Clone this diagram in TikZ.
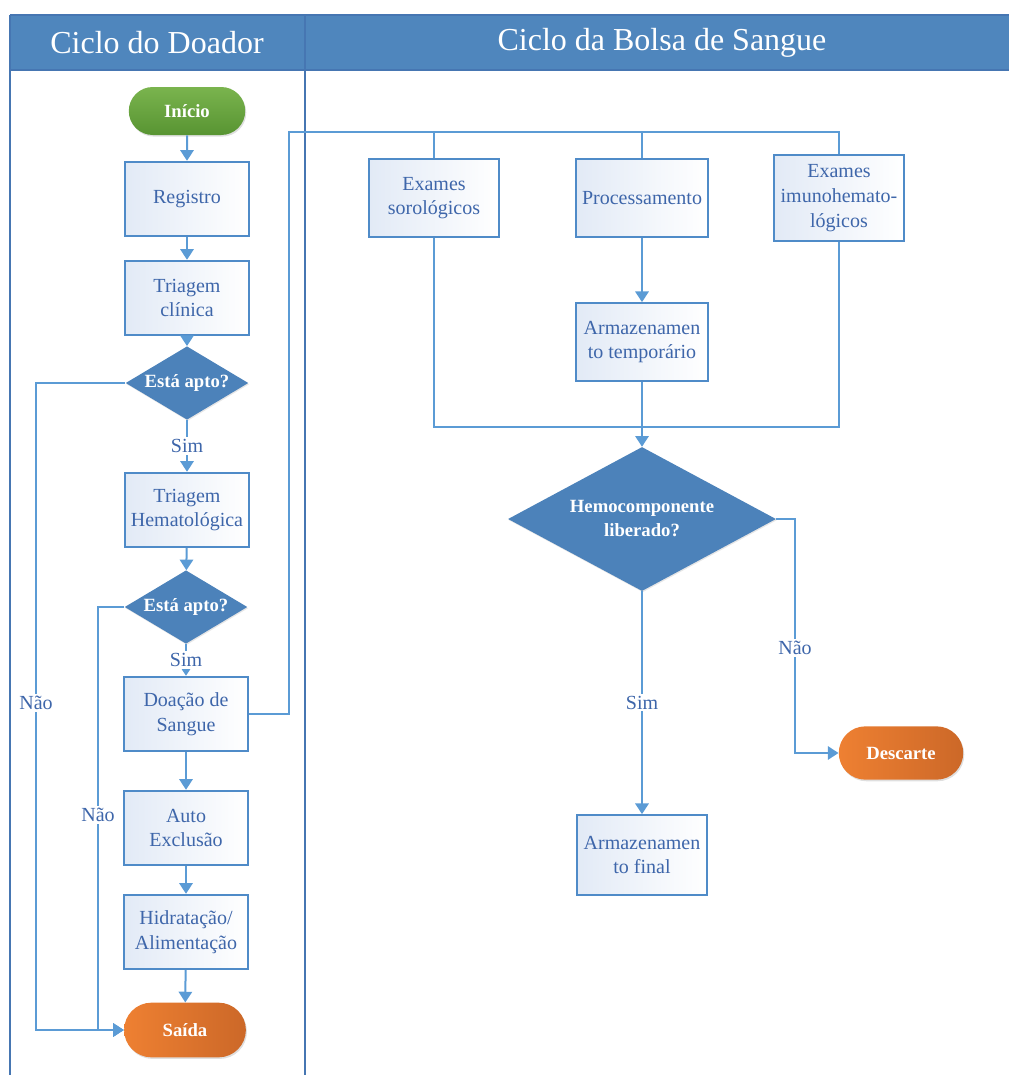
\documentclass[tikz,border=0pt]{standalone}
\usepackage{fontspec}
\setmainfont{Liberation Serif}
\usetikzlibrary{shapes.geometric,shapes.misc,arrows.meta,shadows}
\definecolor{hdr}{RGB}{79,134,189}
\definecolor{lanec}{RGB}{70,118,178}
\definecolor{linec}{RGB}{91,155,213}
\definecolor{boxborder}{RGB}{79,139,200}
\definecolor{boxlight}{RGB}{226,234,246}
\definecolor{boxtext}{RGB}{62,102,170}
\definecolor{diafill}{RGB}{76,130,186}
\definecolor{greenA}{RGB}{122,180,78}
\definecolor{greenB}{RGB}{88,148,50}
\definecolor{orangeA}{RGB}{238,128,50}
\definecolor{orangeB}{RGB}{204,104,40}
\begin{document}
\begin{tikzpicture}[x=0.75pt,y=-0.75pt,
  lane/.style={draw=lanec,line width=1.2pt},
  hdrtext/.style={text=white,font=\fontsize{24}{28}\selectfont},
  box/.style={rectangle,draw=boxborder,line width=1.3pt,left color=boxlight,right color=white,
    text=boxtext,font=\fontsize{15}{18.5}\selectfont,align=center,inner sep=1pt,
    minimum width=93pt,minimum height=56pt},
  decision/.style={diamond,fill=diafill,text=white,font=\bfseries\fontsize{14}{18}\selectfont,
    align=center,inner sep=0pt,drop shadow={opacity=0.2,shadow xshift=0.6pt,shadow yshift=-0.9pt}},
  term/.style={rounded rectangle,text=white,font=\bfseries\fontsize{14}{17}\selectfont,
    drop shadow={opacity=0.25,shadow xshift=0.8pt,shadow yshift=-1.2pt}},
  conn/.style={draw=linec,line width=1.5pt,-{Triangle[width=10pt,length=8pt]}},
  wire/.style={draw=linec,line width=1.5pt},
  lbl/.style={fill=white,text=boxtext,font=\fontsize{15}{18}\selectfont,inner sep=1.5pt}
]
\useasboundingbox (0,0) rectangle (1009,1075);
% lanes and header
\fill[hdr] (10,15) rectangle (1009,70);
\draw[lane] (10,15) -- (1009,15);
\draw[lane] (10,70) -- (1009,70);
\draw[lane] (10,15) -- (10,1075);
\draw[lane] (305,15) -- (305,1075);
\node[hdrtext] (h1) at (157,43) {Ciclo do Doador};
\node[hdrtext] (h2) at (662,43) {Ciclo da Bolsa de Sangue};

% donor cycle
\node[term,top color=greenA,bottom color=greenB,minimum width=94pt,minimum height=36pt] (ini) at (187,111) {Início};
\node[box] (reg) at (187,199) {Registro};
\node[box] (tcl) at (187,298) {Triagem\\clínica};
\node[decision,shape aspect=1.7,minimum width=92pt,minimum height=55pt] (d1) at (187,383) {Está apto?};
\node[box] (trh) at (187,510) {Triagem\\Hematológica};
\node[decision,shape aspect=1.7,minimum width=92pt,minimum height=55pt] (d2) at (186,607) {Está apto?};
\node[box] (doa) at (186,714) {Doação de\\Sangue};
\node[box] (aut) at (186,828) {Auto\\Exclusão};
\node[box] (hid) at (186,932) {Hidratação/\\Alimentação};
\node[term,left color=orangeA,right color=orangeB,minimum width=98pt,minimum height=41pt] (sai) at (185,1030) {Saída};

\draw[conn] (ini) -- (reg);
\draw[conn] (reg) -- (tcl);
\draw[conn] (tcl) -- (d1);
\draw[conn] (d1) -- node[lbl] (s1) {Sim} (trh);
\draw[conn] (trh) -- (d2);
\draw[conn] (d2) -- node[lbl] (s2) {Sim} (doa);
\draw[conn] (doa) -- (aut);
\draw[conn] (aut) -- (hid);
\draw[conn] (hid) -- (sai);

\coordinate (c1) at (36,703);
\coordinate (c2) at (98,815);
\draw[conn] (d1.west) -| (c1) |- (sai.west);
\draw[conn] (d2.west) -| (c2) |- (sai.west);
\node[lbl] (n1) at (c1) {Não};
\node[lbl] (n2) at (c2) {Não};

% blood bag cycle
\node[box,minimum width=97.5pt,minimum height=58.5pt] (sor) at (434,198) {Exames\\sorológicos};
\node[box,minimum width=99pt,minimum height=58.5pt] (proc) at (642,198) {Processamento};
\node[box,minimum width=97.5pt,minimum height=64.5pt] (imu) at (839,198) {Exames\\imunohemato-\\lógicos};
\node[box,minimum width=99pt,minimum height=58.5pt] (tmp) at (642,342) {Armazenamen\\to temporário};
\node[decision,shape aspect=1.86,minimum width=201pt,minimum height=108pt] (d3) at (642,519) {Hemocomponente\\liberado?};
\node[box,minimum width=98pt,minimum height=60pt] (fin) at (642,855) {Armazenamen\\to final};
\node[term,left color=orangeA,right color=orangeB,minimum width=100pt,minimum height=40pt] (des) at (901,753) {Descarte};

\coordinate (busL) at (289,132);
\coordinate (busR) at (839,132);
\draw[wire] (doa.east) -| (busL) -- (busR) -- (imu.north);
\draw[wire] (sor.north) -- (sor.north |- busL);
\draw[wire] (proc.north) -- (proc.north |- busL);
\draw[conn] (proc) -- (tmp);
\coordinate (mR) at (839,427);
\draw[wire] (sor.south) |- (mR) -- (imu.south);
\draw[conn] (tmp) -- (d3);
\draw[conn] (d3) -- node[lbl,pos=0.5] (s3) {Sim} (fin);
\coordinate (c3) at (795,648);
\draw[conn] (d3.east) -| (c3) |- (des.west);
\node[lbl] (n3) at (c3) {Não};
\end{tikzpicture}
\end{document}
